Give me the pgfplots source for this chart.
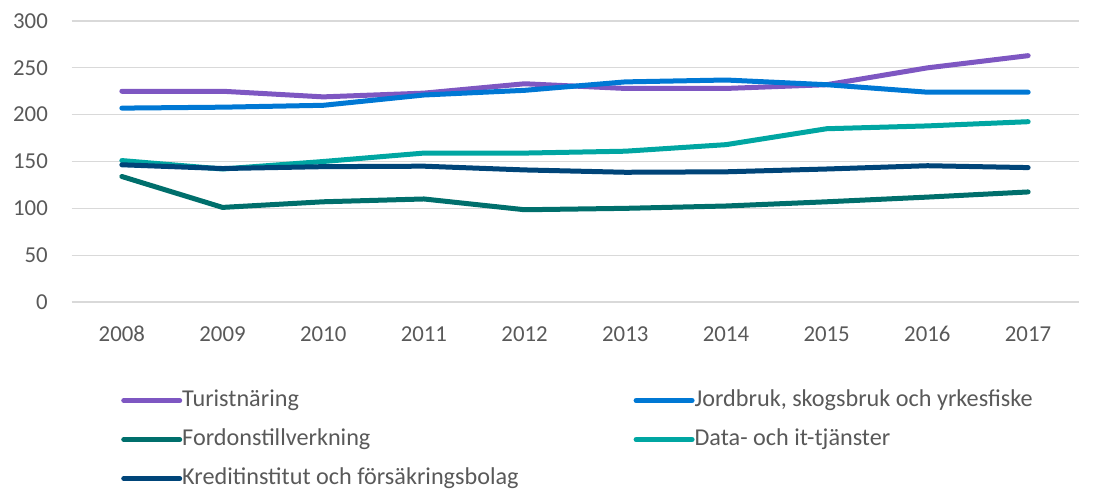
\documentclass[border=0pt]{standalone}
\usepackage{fontspec}
\setmainfont{Carlito}
\usepackage{pgfplots}
\pgfplotsset{compat=1.18}

\definecolor{turist}{HTML}{7E57C2}
\definecolor{jord}{HTML}{0078D4}
\definecolor{fordon}{HTML}{006F6C}
\definecolor{datait}{HTML}{00A6A2}
\definecolor{kredit}{HTML}{004579}
\definecolor{gridgray}{HTML}{D9D9D9}
\definecolor{labelgray}{HTML}{595959}

\newcommand\chartfont{\fontsize{22.8}{27}\selectfont}
\newcommand\legendfont{\fontsize{24.2}{29}\selectfont}

\begin{document}
\begin{tikzpicture}
\useasboundingbox (0pt,0pt) rectangle (1093pt,-496pt);
\begin{axis}[
    at={(71.5pt,-302pt)}, anchor=south west,
    scale only axis,
    width=1007pt, height=281pt,
    xmin=2007.5, xmax=2017.5,
    ymin=0, ymax=300,
    xtick={2008,...,2017},
    ytick={0,50,...,300},
    axis line style={draw=none},
    major tick length=0pt,
    ymajorgrids,
    grid style={color=gridgray, line width=1.3pt},
    tick label style={font=\chartfont, text=labelgray, inner sep=0pt},
    /pgf/number format/assume math mode=true,
    x tick label style={/pgf/number format/1000 sep={}, yshift=-24pt},
    y tick label style={xshift=-23.5pt},
    every axis plot/.append style={line width=5pt, line cap=round, line join=round},
    legend columns=2,
    legend cell align=left,
    legend image code/.code={
        \draw[#1, line width=5pt, line cap=round] (2.5pt,0pt) -- (53.5pt,0pt);
        \path (0pt,0pt) -- (56pt,0pt);
    },
    legend style={
        at={(0.0492,-0.31)}, anchor=north west,
        draw=none, fill=none, inner sep=0pt,
        font=\legendfont,
        nodes={inner sep=0pt, text=labelgray, text height=17pt, text depth=5.5pt},
        row sep=16.5pt,
        /tikz/every even column/.append style={column sep=115pt},
    },
]
\addplot[color=turist] coordinates {
    (2008,225) (2009,225) (2010,219) (2011,223) (2012,233)
    (2013,228) (2014,228) (2015,232) (2016,250) (2017,263)
};
\addlegendentry{Turistnäring}
\addplot[color=jord] coordinates {
    (2008,207) (2009,208) (2010,210) (2011,221) (2012,226)
    (2013,235) (2014,237) (2015,232) (2016,224) (2017,224)
};
\addlegendentry{Jordbruk, skogsbruk och yrkesfiske}
\addplot[color=fordon] coordinates {
    (2008,134) (2009,101) (2010,107) (2011,110) (2012,98.5)
    (2013,100) (2014,102.5) (2015,107) (2016,112) (2017,117.5)
};
\addlegendentry{Fordonstillverkning}
\addplot[color=datait] coordinates {
    (2008,151) (2009,142) (2010,150) (2011,159) (2012,159)
    (2013,161) (2014,168) (2015,185) (2016,188) (2017,192.5)
};
\addlegendentry{Data- och it-tjänster}
\addplot[color=kredit] coordinates {
    (2008,146.5) (2009,142.5) (2010,144.5) (2011,145) (2012,141)
    (2013,138.5) (2014,139) (2015,142) (2016,145.5) (2017,143.5)
};
\addlegendentry{Kreditinstitut och försäkringsbolag}
\end{axis}
\end{tikzpicture}
\end{document}
